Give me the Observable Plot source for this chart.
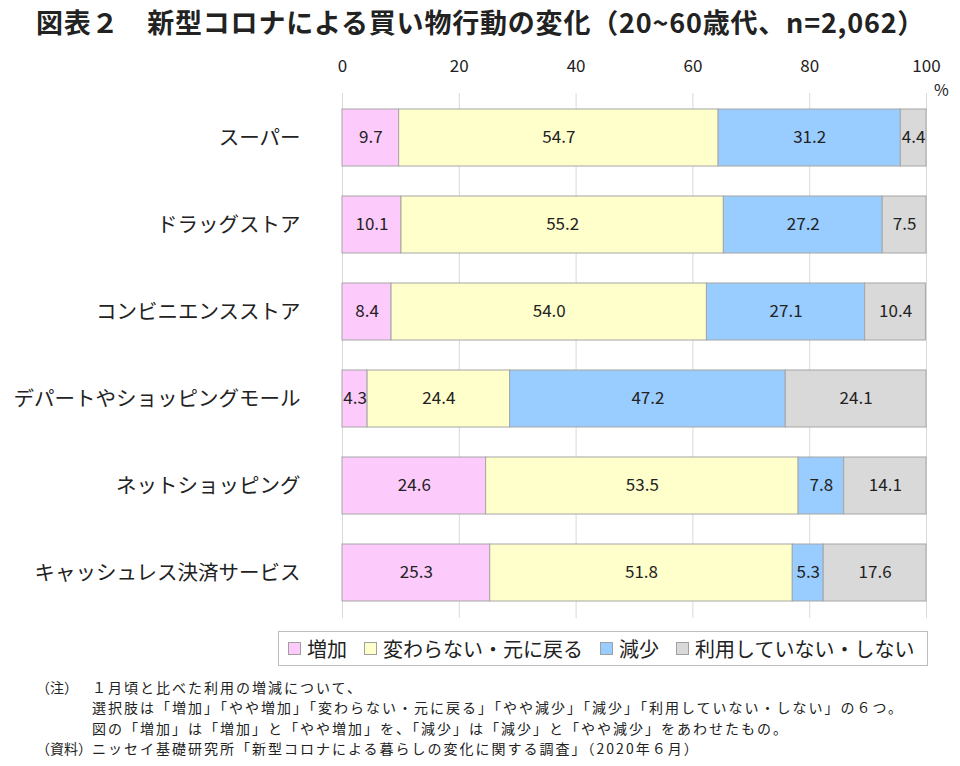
<!DOCTYPE html>
<html><head><meta charset="utf-8">
<script src="https://cdn.jsdelivr.net/npm/d3@7"></script>
<script src="https://cdn.jsdelivr.net/npm/@observablehq/plot@0.6"></script>
<style>
body{margin:0;background:#fff;font-family:"Noto Sans CJK JP","Noto Sans",sans-serif;color:#222;}
#wrap{position:relative;width:960px;height:766px;}
#title{position:absolute;left:36px;top:2px;font-size:27px;font-weight:bold;white-space:nowrap;letter-spacing:0.8px;}
#chart{position:absolute;left:0;top:45px;}
#pct{position:absolute;left:934px;top:77px;font-size:16px;}
#legend{position:absolute;left:278px;top:631px;width:650px;height:35px;border:1px solid #bdbdbd;box-sizing:border-box;display:flex;align-items:center;font-size:20px;padding-left:9px;}
.item{display:flex;align-items:center;}
.sw{width:11px;height:11px;border:1px solid #a0a0a0;margin-right:6px;}
#notes{position:absolute;left:36px;top:677px;font-size:14px;line-height:20.3px;white-space:nowrap;letter-spacing:2px;}
.row{display:flex;}
.lab{width:56px;letter-spacing:0;}
</style></head>
<body><div id="wrap">
<div id="title">図表２　新型コロナによる買い物行動の変化（20~60歳代、n=2,062）</div>
<div id="chart"></div>
<div id="pct">%</div>
<div id="legend"></div>
<div id="notes">
<div class="row"><div class="lab">（注）</div><div>１月頃と比べた利用の増減について、<br>選択肢は「増加」「やや増加」「変わらない・元に戻る」「やや減少」「減少」「利用していない・しない」の６つ。<br>図の「増加」は「増加」と「やや増加」を、「減少」は「減少」と「やや減少」をあわせたもの。</div></div>
<div class="row"><div class="lab">（資料）</div><div>ニッセイ基礎研究所「新型コロナによる暮らしの変化に関する調査」（2020年６月）</div></div>
</div>
</div>
<script>
const categories = ["スーパー","ドラッグストア","コンビニエンスストア","デパートやショッピングモール","ネットショッピング","キャッシュレス決済サービス"];
const seriesNames = ["増加","変わらない・元に戻る","減少","利用していない・しない"];
const seriesColors = ["#fccbfb","#ffffcc","#99ccff","#d9d9d9"];
const zoka   = [9.7, 10.1, 8.4, 4.3, 24.6, 25.3];
const kawaranai = [54.7, 55.2, 54.0, 24.4, 53.5, 51.8];
const gensho = [31.2, 27.2, 27.1, 47.2, 7.8, 5.3];
const riyoshinai = [4.4, 7.5, 10.4, 24.1, 14.1, 17.6];
const xTicks = [0,20,40,60,80,100];

const seriesValues = [zoka, kawaranai, gensho, riyoshinai];
const data = [];
categories.forEach((c,i)=>seriesNames.forEach((s,j)=>data.push({cat:c, series:s, value:seriesValues[j][i]})));

const chart = Plot.plot({
  width:960, height:578,
  marginLeft:342, marginRight:34, marginTop:48, marginBottom:5,
  style:{fontFamily:'"Noto Sans CJK JP","Noto Sans",sans-serif', color:"#222", background:"#fff", fontSize:"17px"},
  x:{domain:[0,100], axis:"top", ticks:xTicks, tickSize:0, tickPadding:22, grid:false, label:null, tickFormat:d=>d},
  y:{domain:categories, paddingInner:0.34, paddingOuter:0.17, tickSize:0, tickPadding:42, label:null},
  color:{domain:seriesNames, range:seriesColors},
  marks:[
    Plot.ruleX(xTicks, {stroke:"#d9d9d9", strokeWidth:1}),
    Plot.barX(data, Plot.stackX({x:"value", y:"cat", fill:"series", z:"series", order:seriesNames, stroke:"#a6a6a6", strokeWidth:1})),
    Plot.text(data, Plot.stackX({x:"value", y:"cat", z:"series", order:seriesNames, text:d=>d.value.toFixed(1), fontSize:17, fill:"#222"}))
  ]
});
chart.querySelectorAll('g[aria-label="y-axis tick label"], g[aria-label="y-axis tick label"] text').forEach(e=>{e.setAttribute("font-size","20.5");e.style.fontSize="20.5px";});
document.getElementById("chart").appendChild(chart);

const lg = document.getElementById("legend");
const gaps = [17, 17, 17, 0];
seriesNames.forEach((s,i)=>{
  const it=document.createElement("div"); it.className="item"; it.style.marginRight=gaps[i]+"px";
  const sw=document.createElement("div"); sw.className="sw"; sw.style.background=seriesColors[i];
  const t=document.createElement("span"); t.textContent=s;
  it.appendChild(sw); it.appendChild(t); lg.appendChild(it);
});
</script>
</body></html>
